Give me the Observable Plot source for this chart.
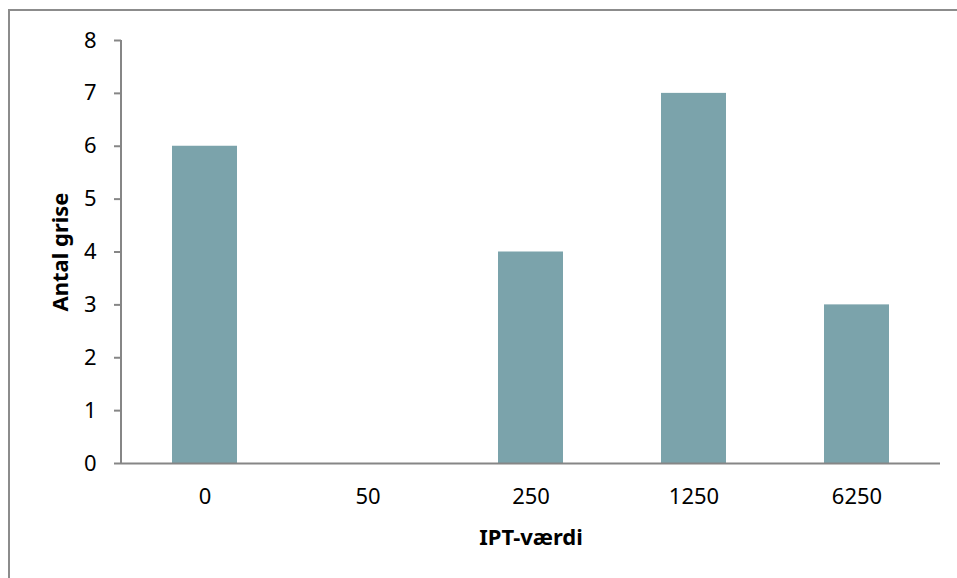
<!DOCTYPE html>
<html><head><meta charset="utf-8">
<script src="https://cdn.jsdelivr.net/npm/d3@7"></script>
<script src="https://cdn.jsdelivr.net/npm/@observablehq/plot@0.6"></script>
<style>
html,body{margin:0;padding:0;background:#fff;overflow:hidden;}
#wrap{position:relative;width:957px;height:578px;}
#border{position:absolute;left:8px;top:9px;width:1000px;height:1000px;border:2px solid #8c8c8c;box-sizing:border-box;}
#chart{position:absolute;left:0;top:0;}
g[aria-label="y-axis label"] text, g[aria-label="x-axis label"] text{font-weight:bold;}
</style></head>
<body><div id="wrap"><div id="border"></div><div id="chart"></div></div>
<script>
const categories = ["0", "50", "250", "1250", "6250"];
const counts = [6, 0, 4, 7, 3];
const yTicks = [0, 1, 2, 3, 4, 5, 6, 7, 8];
const data = categories.map((c, i) => ({c, n: counts[i]}));
const W = 957, H = 578, mL = 121, mR = 17, mT = 40, mB = 115;
const plot = Plot.plot({
  width: W, height: H,
  marginLeft: mL, marginRight: mR, marginTop: mT, marginBottom: mB,
  style: {fontFamily: "Noto Sans, sans-serif", fontSize: "22px", color: "#000", background: "transparent", overflow: "visible"},
  x: {domain: categories, paddingInner: 0.6, paddingOuter: 0.3, label: null},
  y: {domain: [0, 8], label: null},
  marks: [
    Plot.barY(data, {x: "c", y: "n", fill: "#7ba3ab"}),
    Plot.ruleY([0], {stroke: "#868686", strokeWidth: 2}),
    Plot.axisY({ticks: yTicks, tickSize: 7, tickPadding: 18, stroke: "#868686", strokeWidth: 2, strokeOpacity: 1,
      label: "Antal grise", labelAnchor: "center", labelArrow: false, labelOffset: 69, fontSize: 22}),
    Plot.axisX({tickSize: 0, tickPadding: 25, label: "IPT-værdi", labelAnchor: "center", labelArrow: false, labelOffset: 81, fontSize: 22})
  ]
});
d3.select(plot).append("line")
  .attr("x1", mL).attr("x2", mL).attr("y1", mT).attr("y2", H - mB)
  .attr("stroke", "#868686").attr("stroke-width", 2);
document.getElementById("chart").appendChild(plot);
</script></body></html>
